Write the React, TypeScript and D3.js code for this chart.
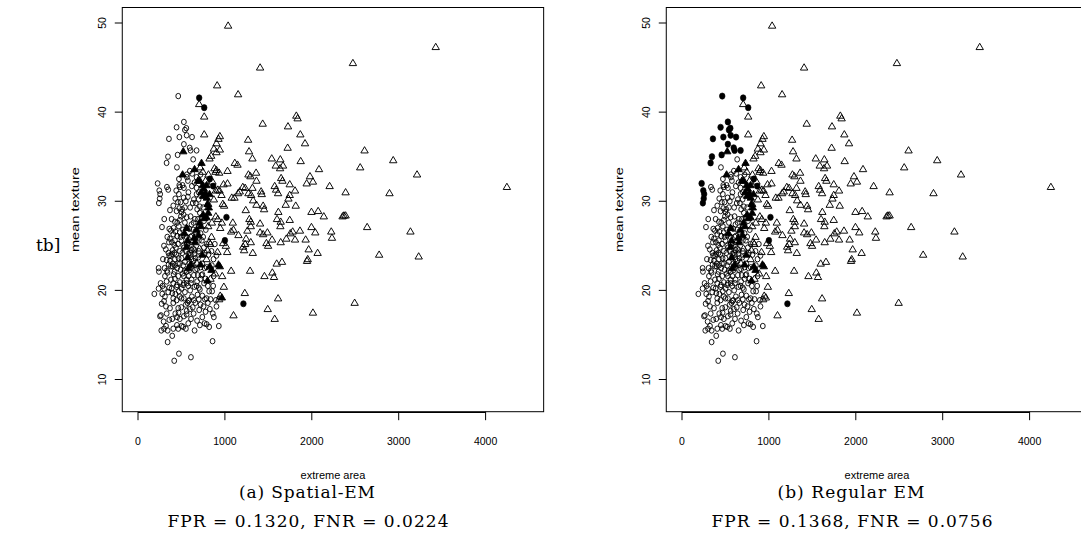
import React from 'react';
import * as d3 from 'd3';

const xTicks = [0, 1000, 2000, 3000, 4000];
const yTicks = [10, 20, 30, 40, 50];

// malignant points drawn as open triangles in both panels
const trianglesOpen: [number, number][] = [
  [1037,49.7],[3426,47.3],[2473,45.5],[1405,45.0],[911,43.0],[1152,42.0],[704,40.9],[762,39.5],[1435,38.7],[1822,39.6],[1837,39.3],[1726,38.4],[1868,37.5],[1922,36.5],[1722,36.0],[1267,36.9],[1278,35.6],[1317,34.8],[762,37.5],[942,37.3],[926,37.0],[903,36.5],[873,35.9],
  [1539,34.8],[1638,34.7],[1669,34.0],[1585,34.0],[1635,33.7],[1872,34.5],[2083,33.6],[2557,33.8],[2607,35.7],[2937,34.6],[3211,33.0],[1979,32.8],[1941,32.0],[2013,32.2],[2205,31.7],[2389,31.0],[2894,30.9],[4245,31.6],[1647,32.6],[1662,32.3],[1573,31.7],[1589,31.3],[1612,30.9],[1746,31.9],[1807,31.2],[1746,30.7],[1731,30.3],[1700,29.6],[1815,29.5],[1996,28.8],[2073,28.9],[2138,28.3],[2354,28.3],[2370,28.4],[2389,28.4],[1615,28.8],[1600,28.0],[1642,27.7],[1746,27.9],[1638,27.2],[1996,27.1],[2040,26.5],[1864,26.7],[1780,26.6],[1753,26.4],[1707,25.8],[1807,25.7],[1929,25.7],[1642,25.4],[1964,24.6],[2067,24.2],[1953,23.5],[1945,23.3],[1596,23.0],[1657,23.2],[2224,26.6],[2232,25.9],[2637,27.1],[3135,26.6],[2775,24.0],[3230,23.8],[1546,22.0],[1565,21.5],[1455,21.6],[2493,18.6],[2013,17.5],[1493,17.9],[1573,16.8],[1612,19.1],
  [1030,33.4],[1114,34.3],[1145,34.1],[1271,33.0],[1294,32.8],[1359,33.2],[984,31.9],[1030,32.0],[1079,30.4],[1110,30.4],[1152,30.9],[1171,31.1],[1206,31.6],[1233,31.5],[1317,31.5],[1363,32.3],[1271,30.9],[1302,30.7],[1325,30.1],[1363,29.6],[1417,31.1],[1424,30.8],[1440,29.5],[1451,29.1],[1240,29.0],[1282,28.0],[1298,27.7],[1298,27.2],[1405,27.5],[1405,26.5],[1440,26.3],[1489,26.5],[1543,25.7],[1478,25.3],[1497,25.0],[1259,26.7],[1244,25.8],[1298,25.4],[1321,24.2],[1233,25.2],[1210,24.9],[1221,24.5],[1091,27.6],[1099,26.8],[1072,26.6],[1156,26.2],[980,25.3],[1011,25.0],[1026,24.3],[1290,22.2],[1072,22.2],[969,21.6],[988,20.4],[1229,19.7],[1099,17.2],[915,24.3],[965,27.6],[946,27.0],
  [823,34.8],[842,35.1],[903,35.5],[942,35.8],[880,33.7],[903,33.5],[934,33.2],[892,33.3],[811,33.0],[746,33.3],[716,33.8],[777,32.3],[857,32.2],[896,31.2],[919,31.3],[938,31.2],[961,30.7],[976,29.7],[991,29.5],[873,30.2],[808,29.7],[896,28.3],[919,28.0],[850,27.6],[808,27.2],[846,26.0],[819,25.4],[831,25.2],[800,24.5],[708,24.7],[674,23.1],[789,23.5],[888,21.9],[834,21.3],[946,19.4],[934,19.0],
];

// malignant points drawn as filled triangles in both panels
const trianglesFilled: [number, number][] = [
  [521,35.6],[513,33.0],[731,34.3],[651,33.6],[689,32.3],[712,32.3],[743,31.8],[758,31.4],[789,31.8],[727,31.0],[750,30.6],[777,30.9],[792,30.4],[823,30.8],[800,29.7],[815,29.3],[750,28.5],[762,28.1],[789,28.2],[808,28.7],[708,27.6],[723,27.2],[674,26.8],[697,26.2],[647,25.9],[655,25.4],[559,27.0],[536,26.4],[570,25.6],[739,24.0],[570,23.7],[720,22.9],[827,22.7],[846,22.3],[926,22.9],[942,22.7],[800,21.1],[605,22.9],[578,22.5],[559,24.9],
];
// filled only in panel (a), open in panel (b)
const trianglesFilledAOnly: [number, number][] = [[965,19.2]];

// benign points: open circles in both panels
const circlesOpen: [number, number][] = [
  [188,19.6],[237,22.5],[241,22.1],[237,20.2],[276,27.1],[302,28.0],[299,25.0],[333,31.6],[348,31.3],[448,33.8],[471,32.5],[475,31.8],[482,31.6],[635,34.7],[597,33.4],[563,33.0],[563,32.7],[574,32.3],[513,31.8],[528,31.5],[525,30.4],[574,30.5],[624,33.1],[674,31.5],[697,30.2],[406,29.5],[368,29.0],[444,28.9],[475,29.2],[501,28.8],[387,28.0],[425,27.7],[360,26.9],[379,26.7],[406,26.3],[337,26.0],[368,25.8],[356,25.4],[417,25.1],[436,24.8],[398,24.5],[360,23.9],[391,24.1],[287,23.5],[329,23.4],[368,23.3],[352,22.9],[306,22.5],[333,22.2],[379,22.7],[421,22.1],[260,20.8],[283,20.5],[329,21.0],[279,19.6],[310,19.3],[348,19.8],[272,18.5],[322,18.2],[368,18.0],[406,18.6],[264,17.2],[253,17.1],[295,16.5],[322,16.0],[268,15.5],[299,15.7],[341,15.5],[406,15.7],[448,16.1],[463,15.7],[394,16.8],[429,17.4],[463,18.0],[341,14.2],[394,14.9],[417,12.1],[471,12.9],[609,12.5],[501,16.0],[551,15.7],[578,16.3],[651,15.5],[712,16.1],[766,16.3],[819,15.9],[858,14.3],[930,16.0],[704,17.8],[754,18.2],[804,18.6],[861,17.4],[873,17.0],[835,19.0],[896,18.9],[903,18.2],[865,20.5],[853,19.9],[804,20.5],[819,19.9],[674,20.5],[712,20.1],[685,19.5],[620,19.3],[643,18.9],[582,18.8],[597,17.9],[559,17.3],[528,17.1],[498,18.1],[467,17.5],[482,16.8],[766,22.5],[731,21.7],[777,21.3],[658,22.3],[689,21.7],[616,23.5],[647,24.1],[693,23.7],[789,25.2],[758,24.8],[735,25.6],[655,24.5],[616,25.1],[635,24.7],[704,27.2],[720,26.4],[750,26.0],[616,27.4],[635,26.8],[681,29.1],[712,28.7],[750,29.3],[655,28.0],[605,28.3],[540,29.3],[509,29.1],[525,28.5],[494,28.3],[482,27.9],[452,27.6],[540,27.6],[563,27.0],[517,26.8],[482,26.5],[452,26.1],[425,25.6],[501,25.6],[521,25.0],[482,24.4],[467,23.6],[482,23.0],[425,22.8],[521,22.8],[559,22.1],[528,21.6],[463,21.6],[425,21.3],[482,20.9],[406,20.8],[444,20.4],[387,20.2],[501,20.2],[540,19.8],[578,20.5],[616,21.2],[643,21.7],[597,22.3],[559,21.2],[528,20.8],[482,19.3],[444,18.9],[406,19.1],[528,19.1],[570,18.6],[616,24.5],[578,24.1],[551,24.4],[425,23.5],[398,22.7],[605,26.0],[582,25.3],[559,26.0],[666,25.6],[674,30.8],[643,30.2],[666,29.8],[712,29.4],[620,31.7],[651,32.1],[720,33.0],[674,32.7],[429,30.3],[459,29.9],[490,29.9],[846,24.4],[869,23.5],[903,23.9],[884,25.2],[789,19.1],[827,17.9],[777,17.6],
  [440,24.0],[460,25.2],[510,24.2],[540,23.2],[590,23.0],[630,22.8],[660,23.6],[700,24.4],[720,22.6],[680,21.0],[650,20.4],[600,20.0],[560,20.8],[515,21.9],[490,22.3],[450,22.5],[410,21.8],[380,21.2],[360,20.3],[395,19.7],[430,19.6],[470,19.9],[500,19.1],[550,18.4],[590,18.9],[630,18.1],[660,18.6],[700,19.0],[740,19.4],[760,20.8],[720,21.3],[740,23.0],[770,24.2],[700,25.6],[660,26.6],[620,26.1],[590,26.9],[560,28.2],[600,29.3],[630,29.8],[580,31.0],[550,30.0],[470,30.8],[440,31.2],[410,27.0],[390,25.4],[350,24.2],[320,24.6],[310,21.6],[300,18.8],[330,17.4],[360,16.7],[520,15.9],[610,16.8],[680,16.6],[740,17.0],[790,16.2],[520,26.2],[470,27.2],[430,26.6],[560,25.2],[600,24.2],[640,23.3],[680,22.4],[580,21.6],[540,22.2],[500,23.6],[460,23.0],[420,24.2],[380,23.9],[450,20.6],[520,20.6],[610,20.8],[700,20.3],[740,21.8],[790,22.6],[810,24.0],[780,26.8],[760,27.8],[730,28.2],[690,28.0],[700,31.0],[640,27.6],[610,24.0],[530,24.8],[490,26.0],[400,23.0],[340,22.0],[300,20.2],[450,17.0],[560,17.7],[640,17.4],[720,18.4],[770,19.0],[870,21.6],[850,22.8],
];

// benign points: open in panel (a), filled in panel (b)
const circlesFlipped: [number, number][] = [
  [226,32.0],[245,31.2],[255,30.8],[250,30.3],[240,29.8],[463,41.8],[356,37.0],[345,35.0],[329,34.3],[444,38.3],[528,38.9],[540,38.0],[556,38.2],[560,37.4],[476,37.2],[528,36.4],[456,35.2],[595,36.0],[605,35.7],[674,35.7],[622,37.2],
];

// filled circles in both panels
const circlesFilled: [number, number][] = [
  [704,41.6],[762,40.5],[827,32.5],[865,31.7],[1018,28.2],[1000,25.6],[1213,18.5],
];

const captions = [
  { title: '(a) Spatial-EM', stats: 'FPR = 0.1320, FNR = 0.0224', titleLen: 136 },
  { title: '(b) Regular EM', stats: 'FPR = 0.1368, FNR = 0.0756', titleLen: 147 },
];

const SANS = '"Liberation Sans", Arial, Helvetica, sans-serif';
const SERIF = '"DejaVu Serif", "Liberation Serif", serif';

const triPath = 'M0,-3.8 L3.7,2.5 L-3.7,2.5 Z';

function Panel({ dx, panel }: { dx: number; panel: number }) {
  const x = d3.scaleLinear().domain([0, 4000]).range([138 + dx, 485.6 + dx]);
  const y = d3.scaleLinear().domain([10, 50]).range([379.5, 23]);
  const left = x(-181);
  const right = x(4668);
  const top = 7.5;
  const bottom = 411.7;
  const cap = captions[panel];
  const cx = (left + right) / 2;
  const capX = cx - 26;

  const openCircles = panel === 0 ? circlesOpen.concat(circlesFlipped) : circlesOpen;
  const filledCircles = panel === 0 ? circlesFilled : circlesFilled.concat(circlesFlipped);
  const openTri = panel === 0 ? trianglesOpen : trianglesOpen.concat(trianglesFilledAOnly);
  const filledTri = panel === 0 ? trianglesFilled.concat(trianglesFilledAOnly) : trianglesFilled;

  return (
    <g>
      <rect x={left} y={top} width={right - left} height={bottom - top} fill="none" stroke="#000" strokeWidth={1} />
      {/* x axis */}
      <line x1={x(0)} x2={x(4000)} y1={bottom + 0.8} y2={bottom + 0.8} stroke="#000" strokeWidth={1} />
      {xTicks.map((t) => (
        <g key={'xt' + t}>
          <line x1={x(t)} x2={x(t)} y1={bottom} y2={bottom + 8.5} stroke="#000" strokeWidth={1} />
          <text x={x(t)} y={440.5} textAnchor="middle" dominantBaseline="central" fontFamily={SANS} fontSize={10.5}>{t}</text>
        </g>
      ))}
      {/* y axis */}
      {yTicks.map((t) => (
        <g key={'yt' + t}>
          <line x1={left - 7.5} x2={left} y1={y(t)} y2={y(t)} stroke="#000" strokeWidth={1} />
          <text transform={`translate(${left - 20.5},${y(t)}) rotate(-90)`} textAnchor="middle" dominantBaseline="central" fontFamily={SANS} fontSize={10.5}>{t}</text>
        </g>
      ))}
      <text x={cx} y={475} textAnchor="middle" dominantBaseline="central" fontFamily={SANS} fontSize={11}>extreme area</text>
      <text transform={`translate(${left - 47},${(top + bottom) / 2}) rotate(-90)`} textAnchor="middle" dominantBaseline="central" fontFamily={SANS} fontSize={11} textLength={85} lengthAdjust="spacingAndGlyphs">mean texture</text>
      <text x={capX} y={492} textAnchor="middle" dominantBaseline="central" fontFamily={SERIF} fontSize={17} textLength={cap.titleLen} lengthAdjust="spacing">{cap.title}</text>
      <text x={capX + 1} y={520.5} textAnchor="middle" dominantBaseline="central" fontFamily={SERIF} fontSize={17} textLength={281} lengthAdjust="spacing">{cap.stats}</text>

      {openCircles.map((d, i) => (
        <ellipse key={'oc' + i} cx={x(d[0])} cy={y(d[1])} rx={2.4} ry={2.7} fill="none" stroke="#000" strokeWidth={0.9} />
      ))}
      {openTri.map((d, i) => (
        <path key={'ot' + i} d={triPath} transform={`translate(${x(d[0])},${y(d[1])})`} fill="none" stroke="#000" strokeWidth={0.95} />
      ))}
      {filledTri.map((d, i) => (
        <path key={'ft' + i} d={triPath} transform={`translate(${x(d[0])},${y(d[1])})`} fill="#000" stroke="#000" strokeWidth={0.9} />
      ))}
      {filledCircles.map((d, i) => (
        <ellipse key={'fc' + i} cx={x(d[0])} cy={y(d[1])} rx={2.8} ry={3.1} fill="#000" stroke="#000" strokeWidth={0.6} />
      ))}
    </g>
  );
}

export default function App() {
  return (
    <svg width={1081} height={546} style={{ position: 'absolute', left: 0, top: 0, display: 'block', background: '#fff' }}>
      <rect x={0} y={0} width={1081} height={546} fill="#fff" />
      <text x={36} y={251} fontFamily={SERIF} fontSize={17}>tb]</text>
      <Panel dx={0} panel={0} />
      <Panel dx={544} panel={1} />
    </svg>
  );
}
